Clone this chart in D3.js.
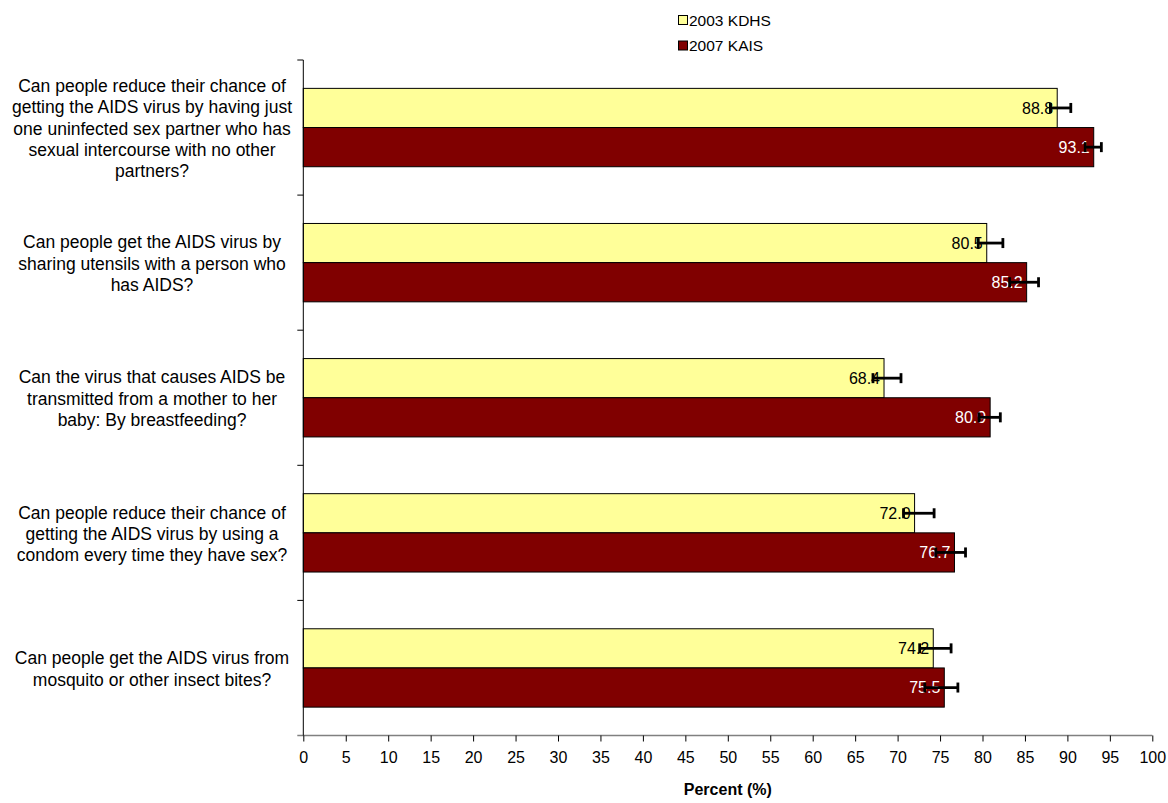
<!DOCTYPE html>
<html>
<head>
<meta charset="utf-8">
<script src="https://cdn.jsdelivr.net/npm/d3@7"></script>
<style>
  html, body { margin: 0; padding: 0; background: #fff; }
  svg { display: block; font-family: "Liberation Sans", Arial, sans-serif; }
</style>
</head>
<body>
<svg id="chart" width="1168" height="803"></svg>
<script>
const categories = [
  ["Can people reduce their chance of", "getting the AIDS virus by having just", "one uninfected sex partner who has", "sexual intercourse with no other", "partners?"],
  ["Can people get the AIDS virus by", "sharing utensils with a person who", "has AIDS?"],
  ["Can the virus that causes AIDS be", "transmitted from a mother to her", "baby: By breastfeeding?"],
  ["Can people reduce their chance of", "getting the AIDS virus by using a", "condom every time they have sex?"],
  ["Can people get the AIDS virus from", "mosquito or other insect bites?"]
];
const seriesNames = ["2003 KDHS", "2007 KAIS"];
const kdhs = [88.8, 80.5, 68.4, 72.0, 74.2];
const kais = [93.1, 85.2, 80.9, 76.7, 75.5];
const kdhsLow = [88.0, 79.5, 67.1, 70.7, 72.6];
const kdhsHigh = [90.4, 82.4, 70.4, 74.3, 76.3];
const kaisLow = [92.1, 83.2, 79.6, 74.5, 73.2];
const kaisHigh = [94.0, 86.6, 82.1, 78.0, 77.1];
const xTicks = [0,5,10,15,20,25,30,35,40,45,50,55,60,65,70,75,80,85,90,95,100];

const colors = ["#FFFF99", "#800000"];
const labelColors = ["#000000", "#FFFFFF"];

const svg = d3.select("#chart");
const pLeft = 303.3, pRight = 1152.3, pTop = 60, pBottom = 735.5;

const x = d3.scaleLinear().domain([0, 100]).range([pLeft, pRight]);
const idx = categories.map((d, i) => i);
const y = d3.scaleBand().domain(idx).range([pTop, pBottom]).padding(0);
const step = y.bandwidth();
const ySub = d3.scaleBand().domain([0, 1]).range([step * 0.21, step * 0.79]).padding(0);

const series = [
  { vals: kdhs, lo: kdhsLow, hi: kdhsHigh },
  { vals: kais, lo: kaisLow, hi: kaisHigh }
];

// bars
series.forEach((s, si) => {
  const g = svg.append("g");
  g.selectAll("rect").data(s.vals).enter().append("rect")
    .attr("x", x(0))
    .attr("y", (d, i) => y(i) + ySub(si))
    .attr("width", d => x(d) - x(0))
    .attr("height", ySub.bandwidth())
    .attr("fill", colors[si])
    .attr("stroke", "#000")
    .attr("stroke-width", 1);
  g.selectAll("text").data(s.vals).enter().append("text")
    .attr("x", d => x(d) - 4)
    .attr("y", (d, i) => y(i) + ySub(si) + ySub.bandwidth() / 2)
    .attr("dy", "0.36em")
    .attr("text-anchor", "end")
    .attr("font-size", 16)
    .attr("fill", labelColors[si])
    .text(d => d3.format(".1f")(d));
});

// error bars
series.forEach((s, si) => {
  const g = svg.append("g").attr("stroke", "#000").attr("stroke-width", 2.8);
  s.vals.forEach((v, i) => {
    const cy = y(i) + ySub(si) + ySub.bandwidth() / 2;
    g.append("line").attr("x1", x(s.lo[i])).attr("x2", x(s.hi[i])).attr("y1", cy).attr("y2", cy);
    g.append("line").attr("x1", x(s.lo[i])).attr("x2", x(s.lo[i])).attr("y1", cy - 5).attr("y2", cy + 5);
    g.append("line").attr("x1", x(s.hi[i])).attr("x2", x(s.hi[i])).attr("y1", cy - 5).attr("y2", cy + 5);
  });
});

// x axis
const xAxis = d3.axisBottom(x).tickValues(xTicks).tickSize(6).tickPadding(10).tickFormat(d3.format("d"));
const gx = svg.append("g").attr("transform", `translate(0,${pBottom})`).call(xAxis);
gx.select(".domain").attr("stroke", "#808080").attr("stroke-width", 1.5).attr("d", `M${pLeft - 6},0H${pRight}`);
gx.selectAll(".tick line").attr("stroke", "#000");
gx.selectAll(".tick text").attr("font-size", 16).attr("font-family", "Liberation Sans, Arial, sans-serif").attr("fill", "#000");

// y axis
const yTickPos = idx.map(i => y(i));
const gy = svg.append("g");
gy.append("line").attr("x1", pLeft).attr("x2", pLeft).attr("y1", pTop).attr("y2", pBottom).attr("stroke", "#000").attr("stroke-width", 1);
gy.selectAll("line.tk").data(yTickPos).enter().append("line").attr("class", "tk")
  .attr("x1", pLeft - 6).attr("x2", pLeft).attr("y1", d => d).attr("y2", d => d)
  .attr("stroke", "#000");

// category labels
const lh = 21.4;
categories.forEach((lines, i) => {
  const cy = y(i) + step / 2 + 1;
  const t = svg.append("text").attr("text-anchor", "middle").attr("font-size", 17.5).attr("fill", "#000");
  lines.forEach((ln, k) => {
    t.append("tspan").attr("x", 152)
      .attr("y", cy + (k - (lines.length - 1) / 2) * lh)
      .attr("dy", "0.35em")
      .text(ln);
  });
});

// axis title
svg.append("text").attr("x", (pLeft + pRight) / 2).attr("y", 795)
  .attr("text-anchor", "middle").attr("font-size", 16).attr("font-weight", "bold")
  .text("Percent (%)");

// legend
const lg = svg.append("g");
seriesNames.forEach((n, i) => {
  lg.append("rect").attr("x", 678.5).attr("y", 15.5 + i * 25.5).attr("width", 9).attr("height", 9)
    .attr("fill", colors[i]).attr("stroke", "#000").attr("stroke-width", 1);
  lg.append("text").attr("x", 689).attr("y", 20 + i * 25.5).attr("dy", "0.36em")
    .attr("font-size", 15.5).text(n);
});
</script>
</body>
</html>
